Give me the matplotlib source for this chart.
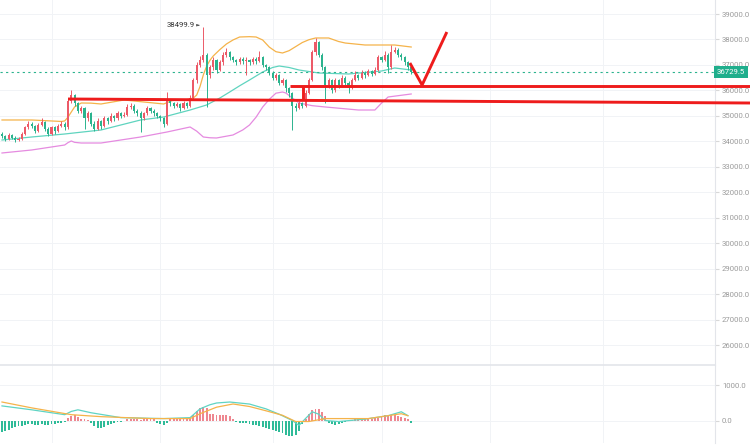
import matplotlib
matplotlib.use("Agg")
import matplotlib.pyplot as plt
import matplotlib.transforms as mtransforms
import numpy as np

# ---------------- data ----------------
opens = [34300, 34200, 34100, 34250, 34150, 34050, 34100, 34300, 34550, 34700,
         34600, 34400, 34650, 34750, 34500, 34300, 34550, 34400, 34600, 34700,
         34550, 35600, 35800, 35500, 35200, 35300, 34900, 35100, 34700, 34500,
         34800, 34600, 34900, 34800, 35000, 34900, 35100, 35000, 35050, 35350,
         35400, 35200, 35100, 34900, 35100, 35300, 35200, 35100, 35000, 34900,
         34700, 35600, 35500, 35400, 35450, 35300, 35500, 35400, 35700, 36400,
         37000, 37200, 37400, 36600, 36900, 37200, 36800, 37100, 37400, 37500,
         37300, 37200, 37100, 37250, 37150, 37200, 37100, 37250, 37150, 37300,
         37000, 36900, 36700, 36500, 36600, 36300, 36400, 36100, 35900, 35400,
         35300, 35500, 35400, 35900, 36400, 37500, 37900, 37400, 36900, 36200,
         36400, 36000, 36400, 36200, 36500, 36300, 36100, 36400, 36600, 36500,
         36700, 36600, 36750, 36650, 36800, 37300, 37200, 37400, 36900, 37500,
         37600, 37400, 37300, 37100, 36900]
closes = [34200, 34100, 34250, 34150, 34050, 34100, 34300, 34550, 34700, 34600,
          34400, 34650, 34750, 34500, 34300, 34550, 34400, 34600, 34700, 34550,
          35600, 35800, 35500, 35200, 35300, 34900, 35100, 34700, 34500, 34800,
          34600, 34900, 34800, 35000, 34900, 35100, 35000, 35050, 35350, 35400,
          35200, 35100, 34900, 35100, 35300, 35200, 35100, 35000, 34900, 34700,
          35600, 35500, 35400, 35450, 35300, 35500, 35400, 35700, 36400, 37000,
          37200, 37400, 36600, 36900, 37200, 36800, 37100, 37400, 37500, 37300,
          37200, 37100, 37250, 37150, 37200, 37100, 37250, 37150, 37300, 37000,
          36900, 36700, 36500, 36600, 36300, 36400, 36100, 35900, 35400, 35300,
          35500, 35400, 35900, 36400, 37500, 37900, 37400, 36900, 36200, 36400,
          36000, 36400, 36200, 36500, 36300, 36100, 36400, 36600, 36500, 36700,
          36600, 36750, 36650, 36800, 37300, 37200, 37400, 36900, 37500, 37600,
          37400, 37300, 37100, 36900, 36729.5]
highs = [34380, 34260, 34320, 34300, 34200, 34180, 34380, 34620, 34800, 34760,
         34650, 34720, 34900, 34780, 34550, 34620, 34600, 34680, 34780, 34750,
         35700, 36000, 35850, 35550, 35400, 35350, 35200, 35150, 34800, 34900,
         34850, 35000, 34950, 35100, 35050, 35200, 35150, 35150, 35450, 35500,
         35450, 35250, 35200, 35150, 35400, 35350, 35250, 35150, 35050, 34950,
         35930, 35650, 35550, 35550, 35500, 35600, 35550, 35800, 36500, 37100,
         37350, 38499.9, 37450, 37000, 37300, 37250, 37200, 37500, 37650, 37550,
         37350, 37250, 37300, 37300, 37300, 37250, 37300, 37300, 37550, 37350,
         37050, 36950, 36750, 36700, 36650, 36500, 36450, 36150, 35950, 35500,
         35600, 35550, 36000, 36500, 37600, 38050, 37950, 37450, 36950, 36500,
         36450, 36500, 36450, 36600, 36550, 36350, 36500, 36750, 36650, 36800,
         36750, 36850, 36800, 36900, 37400, 37350, 37550, 37450, 37780, 37700,
         37650, 37450, 37350, 37150, 36950]
lows = [34120, 34000, 34050, 34080, 33980, 34000, 34060, 34250, 34500, 34520,
        34330, 34350, 34600, 34420, 34220, 34250, 34300, 34350, 34550, 34450,
        34500, 35500, 35400, 35100, 35100, 34500, 34800, 34600, 34400, 34450,
        34500, 34550, 34700, 34750, 34800, 34850, 34900, 34950, 35000, 35250,
        35100, 35000, 34370, 34850, 35050, 35100, 35000, 34900, 34800, 34560,
        34650, 35400, 35300, 35350, 35200, 35250, 35300, 35350, 35650, 36300,
        36900, 37100, 35350, 36500, 36800, 36700, 36750, 37000, 37300, 37200,
        37100, 37000, 37050, 37050, 36600, 37000, 37050, 37050, 37100, 36900,
        36800, 36600, 36400, 36400, 36200, 36200, 35950, 35750, 34450, 35200,
        35250, 35300, 35350, 35850, 36350, 37400, 37300, 36800, 35500, 36100,
        35900, 35950, 36100, 36150, 36200, 35900, 36050, 36350, 36400, 36450,
        36500, 36550, 36550, 36600, 36750, 37100, 37150, 36700, 36850, 37450,
        37300, 37200, 37000, 36800, 36650]

# Bollinger bands
bb_up_idx = [0, 9, 18, 19, 20, 21, 22, 24, 27, 30, 37, 43, 49, 52, 56, 58, 59, 60,
             61, 62, 63, 64, 66, 68, 70, 72, 75, 77, 79, 81, 83, 85, 87, 89, 91,
             93, 95, 99, 102, 104, 110, 114, 119, 124]
bb_up_val = [34838, 34838, 34780, 34800, 34950, 35152, 35350, 35505, 35500, 35466,
             35623, 35544, 35466, 35623, 35640, 35700, 35819, 36150, 36605, 36950,
             37180, 37350, 37600, 37822, 37980, 38097, 38110, 38097, 37979, 37700,
             37520, 37469, 37560, 37720, 37880, 37990, 38058, 38058, 37920, 37861,
             37783, 37783, 37783, 37704]
bb_mid_idx = [0, 9, 19, 30, 42, 49, 57, 62, 66, 69, 72, 75, 79, 82, 84, 87, 90, 96,
              105, 115, 119, 124]
bb_mid_val = [34052, 34170, 34288, 34445, 34838, 34955, 35230, 35427, 35700, 35937,
              36180, 36408, 36723, 36900, 36958, 36900, 36801, 36683, 36644, 36762,
              36880, 36801]
bb_lo_idx = [0, 9, 19, 20, 21, 22, 24, 30, 42, 50, 57, 59, 61, 63, 65, 70, 73, 75,
             77, 79, 81, 83, 85, 86, 88, 90, 94, 98, 108, 113, 115, 117, 124]
bb_lo_val = [33542, 33660, 33856, 33950, 34013, 33960, 33934, 33934, 34170, 34366,
             34563, 34400, 34170, 34140, 34131, 34249, 34450, 34641, 34950, 35348,
             35650, 35890, 35937, 35898, 35700, 35505, 35400, 35348, 35230, 35230,
             35500, 35741, 35859]

# MACD
macd_idx = [0, 9, 19, 21, 23, 27, 36, 49, 57, 60, 63, 65, 69, 75, 80, 84, 88, 90,
            92, 94, 96, 98, 102, 110, 117, 121, 123]
macd_val = [417, 306, 167, 260, 306, 222, 83, 56, 83, 333, 450, 500, 528, 470, 333,
            180, 0, -139, 60, 250, 180, 0, -28, 40, 139, 250, 139]
signal_idx = [0, 9, 21, 30, 45, 57, 60, 65, 70, 75, 80, 85, 89, 93, 98, 111, 121, 123]
signal_val = [528, 361, 167, 111, 56, 56, 194, 380, 472, 400, 278, 150, -28, -28, 56,
              56, 194, 139]
hist_val = [-320, -300, -260, -200, -180, -160, -150, -120, -100, -110,
            -130, -120, -100, -120, -140, -110, -100, -80, -60, -50,
            60, 140, 150, 110, 50, 30, 20, -60, -150, -220,
            -200, -170, -120, -90, -60, -40, -30, -10, 40, 50,
            40, 30, 20, 30, 40, 40, 30, -60, -100, -140,
            -60, 30, 40, 40, 30, 40, 50, 60, 150, 280,
            360, 390, 350, 200, 180, 170, 160, 160, 150, 140,
            40, -40, -60, -70, -80, -100, -120, -130, -150, -170,
            -200, -230, -260, -290, -320, -360, -400, -430, -450, -400,
            -300, -100, 50, 200, 300, 330, 320, 250, 120, -60,
            -100, -120, -100, -80, -30, -20, 20, 40, 40, 40,
            50, 40, 50, 60, 80, 120, 150, 140, 160, 150,
            130, 100, 60, 30, -60]

last_price = 36729.5
high_mark = 38499.9
high_idx = 61

# hand-drawn red lines (index, price)
line1_x = [20, 226.7]
line1_y = [35662, 35505]
line2_x = [87.3, 226.7]
line2_y = [36173, 36173]
step_x = [91.2, 91.2]
step_y = [36173, 35620]
v_x = [123.6, 127.3, 134.8]
v_y = [37076, 36212, 38293]

yticks = [26000, 27000, 28000, 29000, 30000, 31000, 32000, 33000, 34000, 35000,
          36000, 37000, 38000, 39000]
macd_ticks = [0, 1000]

# ---------------- style ----------------
UP = '#ec5a68'
DN = '#2bb38e'
GRID = '#f1f3f6'
TXT = '#9a9a9a'

W, H = 750, 445
fig = plt.figure(figsize=(W / 100, H / 100), dpi=100)
fig.patch.set_facecolor('white')

ax_w = 715 / W
ax1 = fig.add_axes([0, 80 / H, ax_w, 365 / H])
ax2 = fig.add_axes([0, 2 / H, ax_w, 78 / H])

xl = (-2 / 3.3, 713 / 3.3)
for ax in (ax1, ax2):
    ax.set_xlim(*xl)
    ax.set_facecolor('white')
    for s in ('top', 'left', 'bottom'):
        ax.spines[s].set_visible(False)
    ax.spines['right'].set_color('#e3e5ea')
    ax.spines['right'].set_linewidth(0.8)
    ax.yaxis.tick_right()
    ax.tick_params(axis='y', length=3, color='#d8d8d8', labelsize=5.6,
                   labelcolor=TXT, pad=2)
    ax.set_xticks([])
    for gx in [15, 48, 82, 115, 148, 182]:
        ax.axvline(gx, color=GRID, lw=0.7, zorder=0)

ax1.set_ylim(25216, 39550)
ax1.set_yticks(yticks)
ax1.set_yticklabels([f"{v:.1f}" for v in yticks], family='Roboto')
for v in yticks:
    ax1.axhline(v, color=GRID, lw=0.7, zorder=0)

# candles
idx = np.arange(len(closes))
o = np.array(opens); c = np.array(closes)
hi = np.array(highs); lo = np.array(lows)
cols = [UP if cc >= oo else DN for oo, cc in zip(o, c)]
ax1.vlines(idx, lo, hi, colors=cols, lw=0.7, zorder=3)
bottoms = np.minimum(o, c)
heights = np.maximum(np.abs(c - o), 25)
ax1.bar(idx, heights, bottom=bottoms, width=0.66, color=cols, lw=0, zorder=4)

# bollinger
ax1.plot(bb_up_idx, bb_up_val, color='#f5b34a', lw=0.9, zorder=2)
ax1.plot(bb_mid_idx, bb_mid_val, color='#5fd4bf', lw=0.9, zorder=2)
ax1.plot(bb_lo_idx, bb_lo_val, color='#e58be0', lw=0.9, zorder=2)

# last price line
ax1.axhline(last_price, color='#2bb38e', lw=0.8, ls=(0, (2, 3)), zorder=2)
trans = mtransforms.blended_transform_factory(ax1.transAxes, ax1.transData)
ax1.text(1.003, last_price, "36729.5", transform=trans, ha='left', va='center',
         fontsize=5.6, color='white', family='Roboto', zorder=10, clip_on=False,
         bbox=dict(boxstyle='square,pad=0.35', fc='#1fae8c', ec='none'))

# high annotation
ax1.text(high_idx - 2.6, high_mark + 80, f"{high_mark:.1f}", ha='right', va='center',
         fontsize=5.6, color='#333333', family='Roboto', zorder=6)
ax1.annotate('', xy=(high_idx - 0.4, high_mark + 60), xytext=(high_idx - 2.2, high_mark + 60),
             arrowprops=dict(arrowstyle='-|>', color='#555555', lw=0.6,
                             mutation_scale=3), zorder=6)

# red drawings
RED = '#ee1c1c'
for xs, ys in ((line1_x, line1_y), (line2_x, line2_y), (step_x, step_y), (v_x, v_y)):
    ax1.plot(xs, ys, color=RED, lw=2.1, solid_capstyle='butt', zorder=8, clip_on=False)

# ---------------- MACD pane ----------------
ax2.set_ylim(-640, 1583)
ax2.set_yticks(macd_ticks)
ax2.set_yticklabels([f"{v:.1f}" for v in macd_ticks], family='Roboto')
for v in macd_ticks:
    ax2.axhline(v, color=GRID, lw=0.7, zorder=0)
ax2.axhline(1583, color='#e3e5ea', lw=1.2, clip_on=False)
hv = np.array(hist_val)
hcols = ['#ee8790' if v >= 0 else '#2fbb98' for v in hv]
ax2.bar(np.arange(len(hv)), hv, width=0.6, color=hcols, lw=0, zorder=2)
ax2.plot(macd_idx, macd_val, color='#5fd4c4', lw=0.9, zorder=3)
ax2.plot(signal_idx, signal_val, color='#f5b34a', lw=0.9, zorder=3)

fig.savefig('out.png', dpi=100, facecolor='white')
